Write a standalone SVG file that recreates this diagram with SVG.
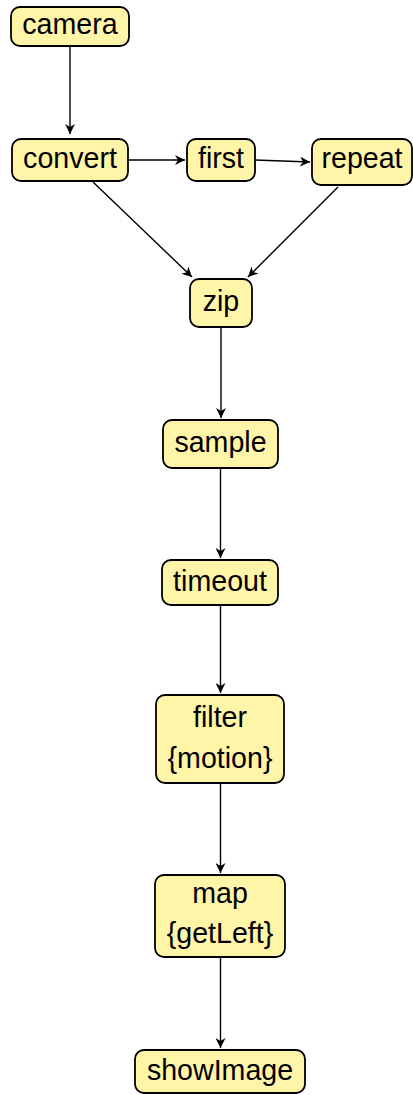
<svg xmlns="http://www.w3.org/2000/svg" width="413" height="1095" viewBox="0 0 413 1095">
<style>
.n rect{fill:#fff5a8;stroke:#000;stroke-width:1.8}
.n text{font-family:"Liberation Sans",Arial,sans-serif;font-size:28.6px;fill:#000;text-anchor:middle}
.e line{stroke:#000;stroke-width:1.4;fill:none}
</style>
<defs>
<marker id="a" viewBox="0 0 10 10" refX="10" refY="5" markerWidth="10" markerHeight="10" markerUnits="userSpaceOnUse" orient="auto">
<path d="M0,0 L10,5 L0,10 L3,5 z" fill="#000"/>
</marker>
</defs>
<g class="e">
<line x1="70" y1="46" x2="70" y2="134" marker-end="url(#a)"/>
<line x1="128" y1="160" x2="185" y2="160" marker-end="url(#a)"/>
<line x1="255" y1="160" x2="310" y2="162" marker-end="url(#a)"/>
<line x1="93" y1="182" x2="192" y2="277" marker-end="url(#a)"/>
<line x1="338" y1="187" x2="248" y2="277" marker-end="url(#a)"/>
<line x1="221" y1="327" x2="221" y2="418" marker-end="url(#a)"/>
<line x1="220.5" y1="468" x2="220.5" y2="558" marker-end="url(#a)"/>
<line x1="220.5" y1="605" x2="220.5" y2="693" marker-end="url(#a)"/>
<line x1="220.5" y1="783" x2="220.5" y2="873" marker-end="url(#a)"/>
<line x1="220.5" y1="957" x2="220.5" y2="1048" marker-end="url(#a)"/>
</g>
<g id="camera" class="n"><rect x="11" y="7" width="118" height="39" rx="9"/><text x="70" y="34">camera</text></g>
<g id="convert" class="n"><rect x="12" y="139" width="116" height="42" rx="9"/><text x="70" y="168">convert</text></g>
<g id="first" class="n"><rect x="187" y="139" width="68" height="42" rx="9"/><text x="221" y="168">first</text></g>
<g id="repeat" class="n"><rect x="312" y="139" width="100" height="46" rx="9"/><text x="362" y="168">repeat</text></g>
<g id="zip" class="n"><rect x="190" y="279" width="62" height="48" rx="9"/><text x="221" y="311">zip</text></g>
<g id="sample" class="n"><rect x="163" y="420" width="115" height="48" rx="9"/><text x="220.5" y="452">sample</text></g>
<g id="timeout" class="n"><rect x="162" y="560" width="116" height="45" rx="9"/><text x="220" y="591">timeout</text></g>
<g id="filter" class="n"><rect x="156" y="695" width="128" height="88" rx="9"/><text x="220" y="727">filter</text><text x="220" y="768">{motion}</text></g>
<g id="map" class="n"><rect x="155" y="875" width="130" height="82" rx="9"/><text x="220" y="903">map</text><text x="220" y="943">{getLeft}</text></g>
<g id="showImage" class="n"><rect x="135" y="1050" width="170" height="43" rx="9"/><text x="220" y="1080">showImage</text></g>
</svg>
